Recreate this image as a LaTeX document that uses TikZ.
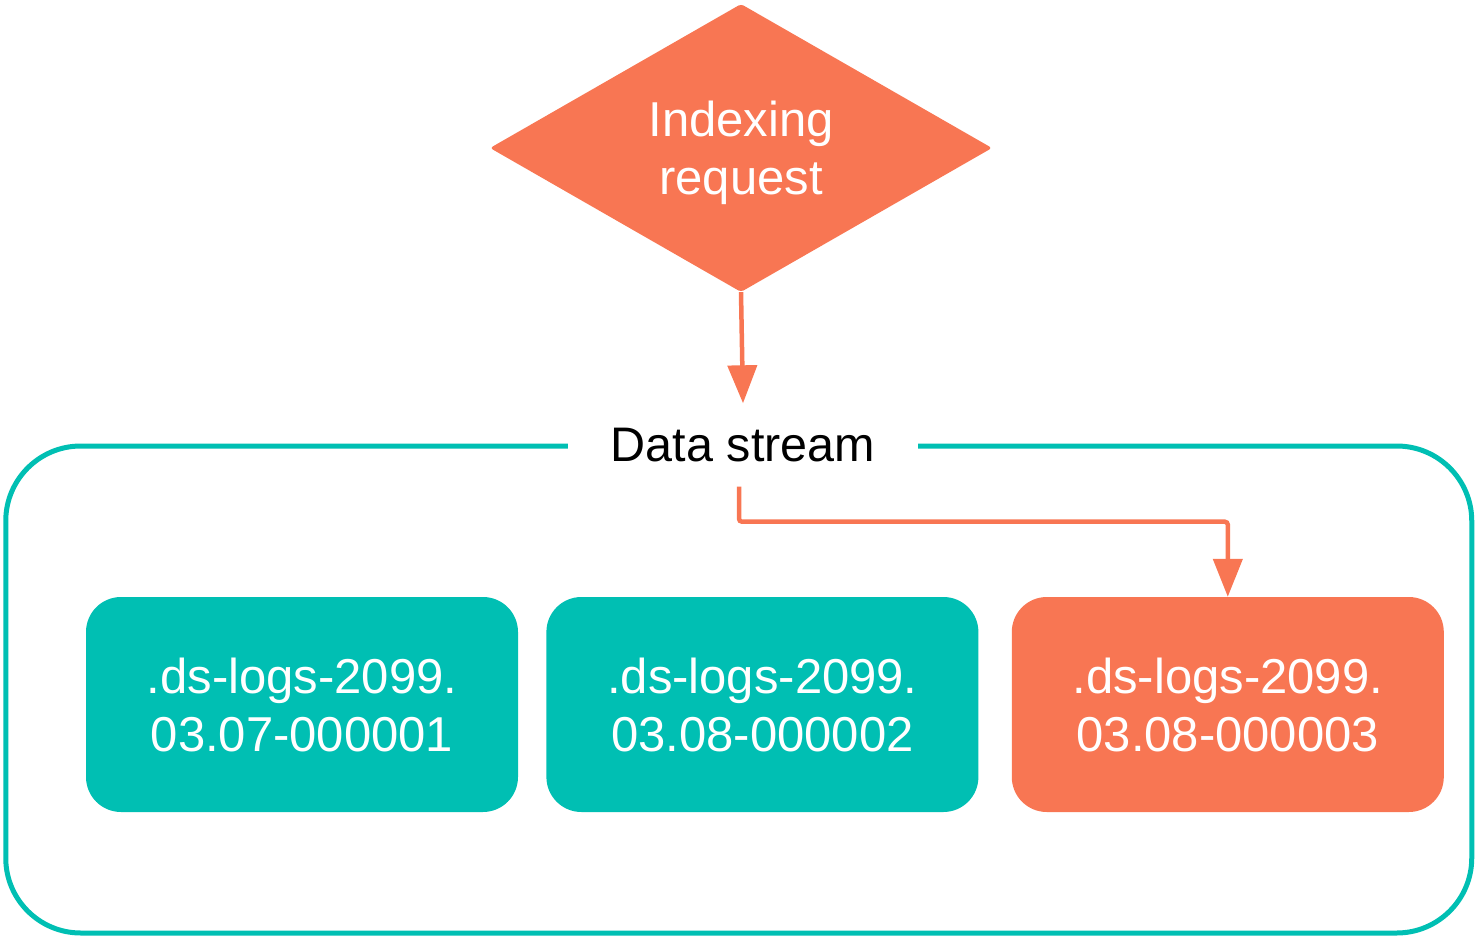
\documentclass[tikz,border=0pt]{standalone}
\usepackage{fontspec}
\setmainfont{Liberation Sans}
\usepackage{xcolor}
\usepackage{tikz}
\usetikzlibrary{shapes.geometric, arrows.meta, positioning}

\definecolor{dsteal}{HTML}{00BFB3}
\definecolor{dscoral}{HTML}{F87653}

\begin{document}
\begin{tikzpicture}[
    x=1pt, y=-1pt,
    node distance=28pt,
    request/.style={diamond, fill=dscoral, text=white, inner sep=0pt, aspect=1.74,
                    minimum width=502pt, minimum height=288pt, rounded corners=3pt,
                    align=center, text depth=0pt, font=\fontsize{49}{58}\selectfont},
    stream/.style={rectangle, draw=dsteal, line width=5pt, rounded corners=75pt,
                   minimum width=1466pt, minimum height=487pt},
    dslabel/.style={fill=white, minimum width=350pt, minimum height=83pt,
                    font=\fontsize{48.5}{58}\selectfont},
    index/.style={rectangle, fill=dsteal, text=white, rounded corners=35pt,
                  minimum width=432pt, minimum height=215pt, align=center,
                  font=\fontsize{49}{58}\selectfont},
    writeidx/.style={index, fill=dscoral},
    flow/.style={draw=dscoral, line width=4.5pt, rounded corners=3pt,
                 -{Triangle[length=38pt, width=29pt]}}
]
\useasboundingbox (0,0) rectangle (1475,936);

% data stream frame with its title cut into the top edge
\node[stream] (ds) at (738.75,689.5) {};
\node[dslabel] (dstitle) at (743,445) {Data stream};

\node[request] (req) at (741,148) {Indexing\\request};

% backing indices, oldest on the left
\node[index] (idx1) at (302,704.5) {.ds-logs-2099.\\03.07-000001};
\node[index, right=of idx1] (idx2) {.ds-logs-2099.\\03.08-000002};
\node[writeidx, right=33pt of idx2] (idx3) {.ds-logs-2099.\\03.08-000003};

\draw[flow] (req.south) -- (dstitle.north);
\draw[flow] ([xshift=-4pt]dstitle.south) -- ++(0,35) -| (idx3.north);

\end{tikzpicture}
\end{document}
